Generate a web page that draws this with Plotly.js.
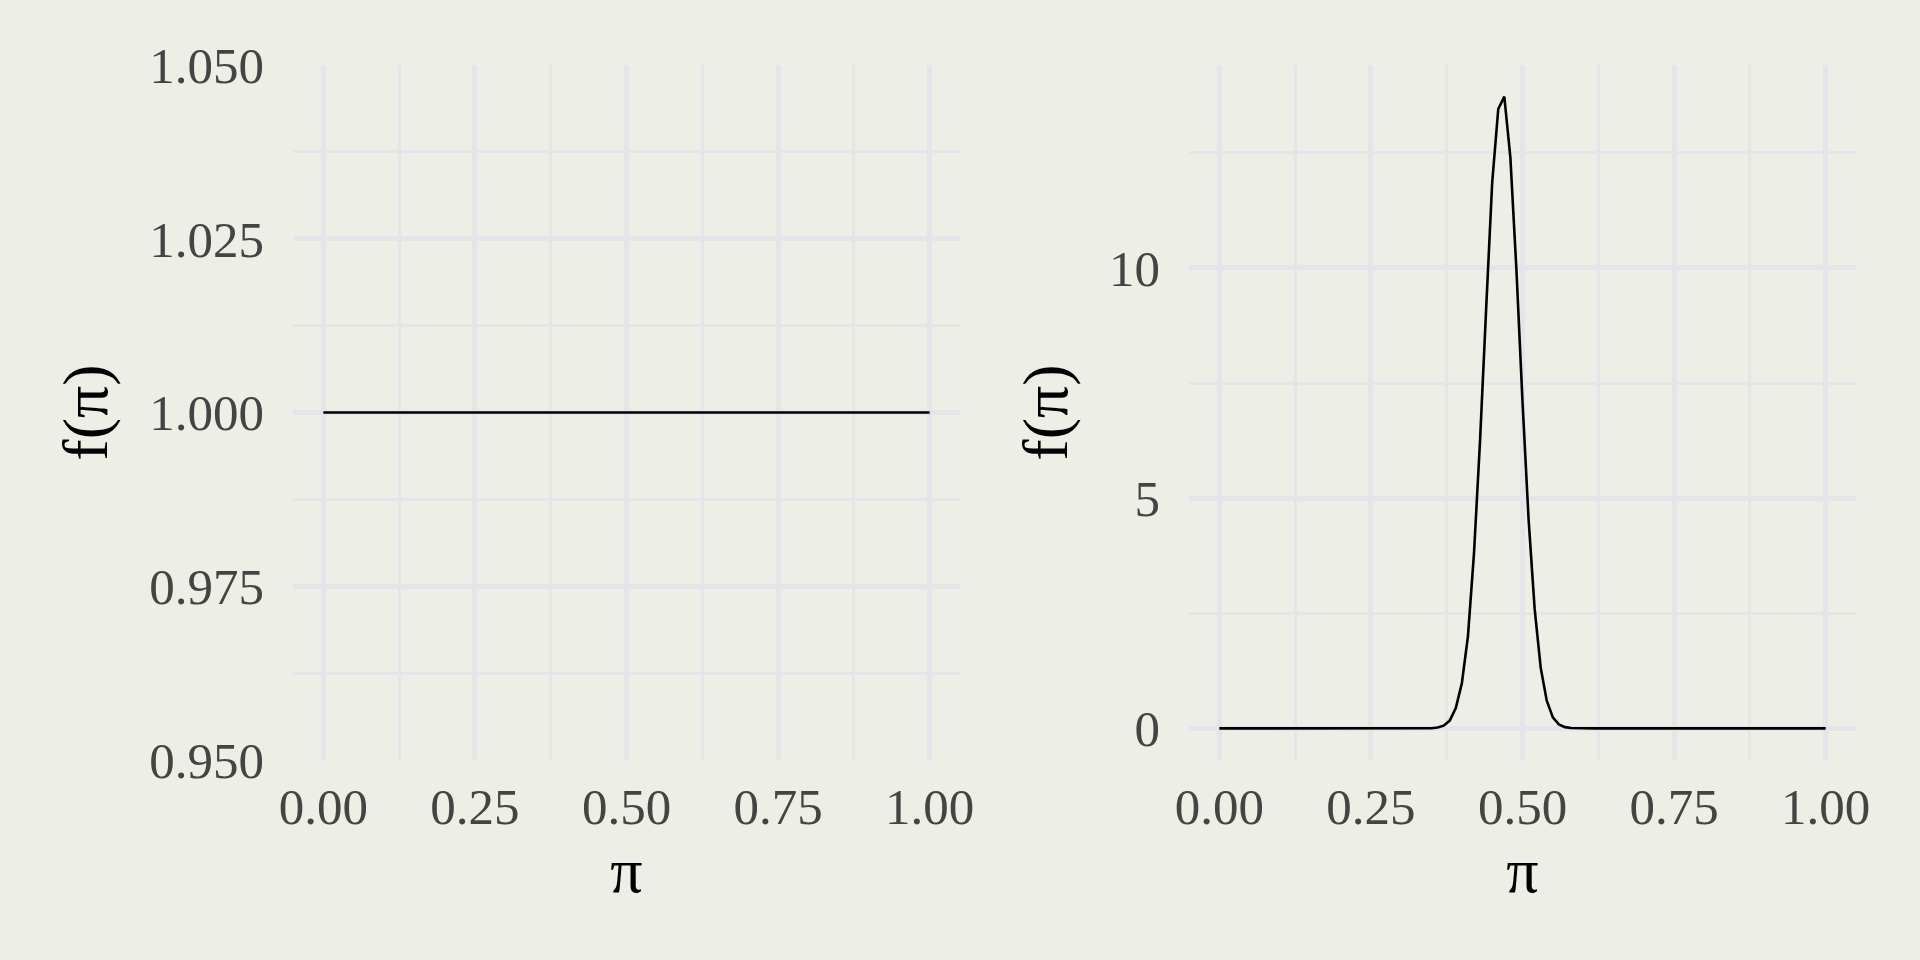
<!DOCTYPE html>
<html>
<head>
<meta charset="utf-8">
<script src="https://cdn.plot.ly/plotly-3.0.1.min.js"></script>
<style>
  html, body { margin: 0; padding: 0; background: #EDEEE6; }
  #chart { width: 1920px; height: 960px; }
</style>
</head>
<body>
<div id="chart"></div>
<script>
// π grid (x values)
const piValues = [
  0.00, 0.01, 0.02, 0.03, 0.04, 0.05, 0.06, 0.07, 0.08, 0.09,
  0.10, 0.11, 0.12, 0.13, 0.14, 0.15, 0.16, 0.17, 0.18, 0.19,
  0.20, 0.21, 0.22, 0.23, 0.24, 0.25, 0.26, 0.27, 0.28, 0.29,
  0.30, 0.31, 0.32, 0.33, 0.34, 0.35, 0.36, 0.37, 0.38, 0.39,
  0.40, 0.41, 0.42, 0.43, 0.44, 0.45, 0.46, 0.47, 0.48, 0.49,
  0.50, 0.51, 0.52, 0.53, 0.54, 0.55, 0.56, 0.57, 0.58, 0.59,
  0.60, 0.61, 0.62, 0.63, 0.64, 0.65, 0.66, 0.67, 0.68, 0.69,
  0.70, 0.71, 0.72, 0.73, 0.74, 0.75, 0.76, 0.77, 0.78, 0.79,
  0.80, 0.81, 0.82, 0.83, 0.84, 0.85, 0.86, 0.87, 0.88, 0.89,
  0.90, 0.91, 0.92, 0.93, 0.94, 0.95, 0.96, 0.97, 0.98, 0.99,
  1.00
];

// Left panel: flat (uniform) density
const priorDensity = [
  1, 1, 1, 1, 1, 1, 1, 1, 1, 1,
  1, 1, 1, 1, 1, 1, 1, 1, 1, 1,
  1, 1, 1, 1, 1, 1, 1, 1, 1, 1,
  1, 1, 1, 1, 1, 1, 1, 1, 1, 1,
  1, 1, 1, 1, 1, 1, 1, 1, 1, 1,
  1, 1, 1, 1, 1, 1, 1, 1, 1, 1,
  1, 1, 1, 1, 1, 1, 1, 1, 1, 1,
  1, 1, 1, 1, 1, 1, 1, 1, 1, 1,
  1, 1, 1, 1, 1, 1, 1, 1, 1, 1,
  1, 1, 1, 1, 1, 1, 1, 1, 1, 1,
  1
];

// Right panel: peaked density
const posteriorDensity = [
  0, 0, 0, 0, 0, 0, 0, 0, 0, 0,
  0, 0, 0, 0, 0, 0, 0, 0, 0, 0,
  0, 0, 0, 0, 0, 0, 0, 0, 0, 0,
  0, 0, 0, 0.0003, 0.001, 0.005, 0.02, 0.06, 0.17, 0.44,
  0.98, 2.0, 3.8, 6.25, 9.1, 11.85, 13.45, 13.72, 12.4, 9.95,
  7.1, 4.55, 2.6, 1.32, 0.6, 0.24, 0.087, 0.028, 0.008, 0.002,
  0.0005, 0, 0, 0, 0, 0, 0, 0, 0, 0,
  0, 0, 0, 0, 0, 0, 0, 0, 0, 0,
  0, 0, 0, 0, 0, 0, 0, 0, 0, 0,
  0, 0, 0, 0, 0, 0, 0, 0, 0, 0,
  0
];

const xTickValues = [0, 0.25, 0.5, 0.75, 1];
const leftYTickValues = [0.95, 0.975, 1.0, 1.025, 1.05];
const rightYTickValues = [0, 5, 10];

const axisTitleX = 'π';
const axisTitleY = 'f(π)';

const BG = '#EDEEE6';
const GRID = '#E4E4E9';
const FONT = 'Liberation Serif, Times New Roman, serif';
const tickFont = { family: FONT, size: 51, color: '#444444' };
const titleFont = { family: FONT, size: 64, color: '#000000' };

const traces = [
  { x: piValues, y: priorDensity, type: 'scatter', mode: 'lines',
    line: { color: '#000000', width: 2.6 }, xaxis: 'x', yaxis: 'y', hoverinfo: 'skip' },
  { x: piValues, y: posteriorDensity, type: 'scatter', mode: 'lines',
    line: { color: '#000000', width: 2.6 }, xaxis: 'x2', yaxis: 'y2', hoverinfo: 'skip' }
];

function xAxis(domain, anchor) {
  return {
    domain: domain, anchor: anchor, range: [-0.05, 1.05],
    tickmode: 'array', tickvals: xTickValues, tickformat: '.2f',
    showgrid: true, gridcolor: GRID, gridwidth: 5,
    minor: { dtick: 0.125, tick0: 0, showgrid: true, gridcolor: GRID, gridwidth: 3 },
    zeroline: false, showline: false, ticks: '',
    tickfont: tickFont, ticklabelstandoff: 12,
    title: { text: axisTitleX, font: titleFont, standoff: 0 },
    fixedrange: true
  };
}

const layout = {
  width: 1920, height: 960,
  paper_bgcolor: BG, plot_bgcolor: BG,
  margin: { l: 0, r: 0, t: 0, b: 0 },
  showlegend: false,
  xaxis: xAxis([293 / 1920, 960 / 1920], 'y'),
  xaxis2: xAxis([1189 / 1920, 1856 / 1920], 'y2'),
  yaxis: {
    domain: [200 / 960, 895 / 960], anchor: 'x', range: [0.95, 1.05],
    tickmode: 'array', tickvals: leftYTickValues, tickformat: '.3f',
    showgrid: true, gridcolor: GRID, gridwidth: 5,
    minor: { dtick: 0.0125, tick0: 0.95, showgrid: true, gridcolor: GRID, gridwidth: 3 },
    zeroline: false, showline: false, ticks: '',
    tickfont: tickFont, ticklabelstandoff: 28,
    title: { text: axisTitleY, font: titleFont, standoff: 20 },
    fixedrange: true
  },
  yaxis2: {
    domain: [200 / 960, 895 / 960], anchor: 'x2', range: [-0.686, 14.406],
    tickmode: 'array', tickvals: rightYTickValues, tickformat: 'd',
    showgrid: true, gridcolor: GRID, gridwidth: 5,
    minor: { dtick: 2.5, tick0: 0, showgrid: true, gridcolor: GRID, gridwidth: 3 },
    zeroline: false, showline: false, ticks: '',
    tickfont: tickFont, ticklabelstandoff: 28,
    title: { text: axisTitleY, font: titleFont, standoff: 20 },
    fixedrange: true
  }
};

Plotly.newPlot('chart', traces, layout, { staticPlot: true, displayModeBar: false });
</script>
</body>
</html>
